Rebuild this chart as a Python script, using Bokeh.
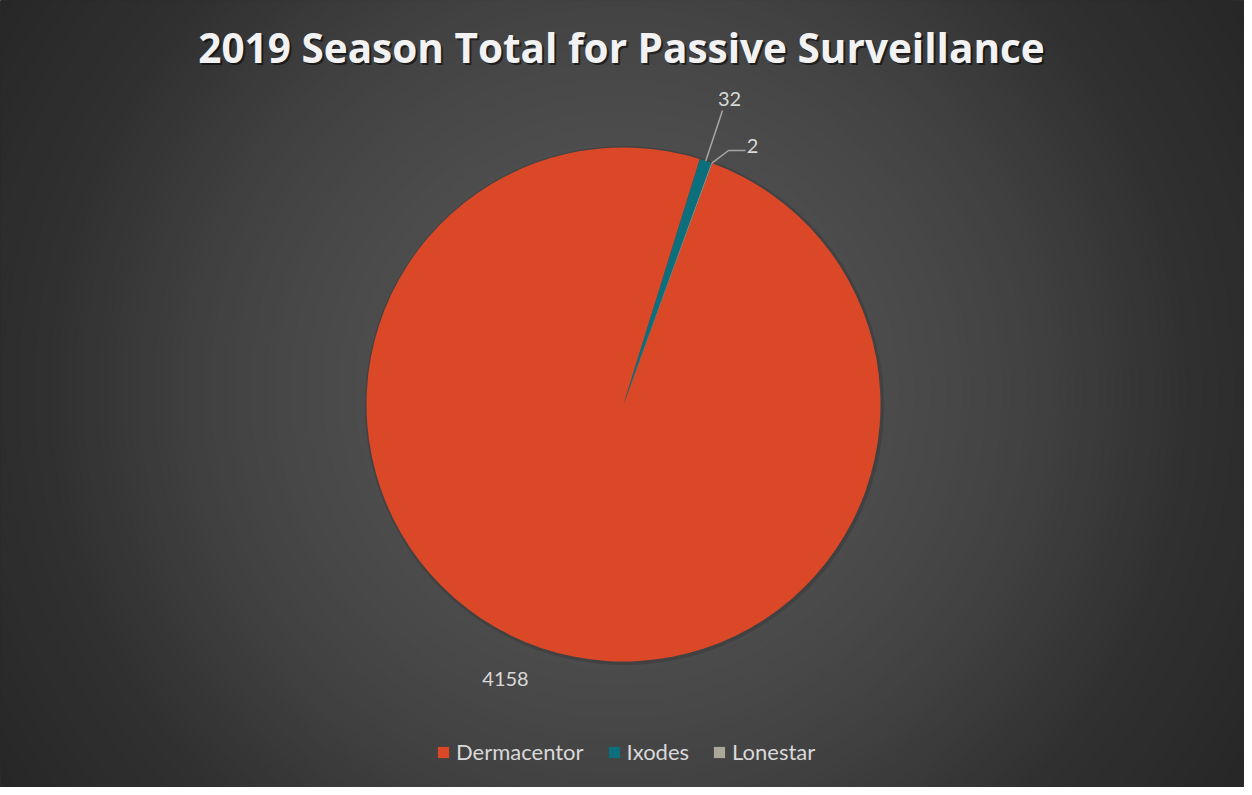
import numpy as np
from bokeh.plotting import figure
from bokeh.models import ColumnDataSource, Range1d, Label, Legend, LegendItem
from bokeh.embed import file_html
from bokeh.resources import INLINE

# ---- data ----
species = ["Dermacentor", "Ixodes", "Lonestar"]
counts = [4158, 32, 2]
colors = ["#da4828", "#0e6f7c", "#aca799"]
title_text = "2019 Season Total for Passive Surveillance"

W, H = 1244, 787
FONT = "Lato"

p = figure(width=W, height=H, output_backend="svg", toolbar_location=None,
           x_range=Range1d(0, W), y_range=Range1d(0, H),
           x_axis_type=None, y_axis_type=None, min_border=0,
           background_fill_color="#272727", border_fill_color="#272727",
           outline_line_color=None)
p.grid.visible = False

# ---- radial background gradient (decoration) ----
gcx, gcy = 618, 397
radii = np.arange(760, 0, -8)
ctrl_d = [0, 250, 334, 434, 574, 740]
ctrl_c = [82, 77, 72, 64, 49, 39]
shades = np.interp(radii, ctrl_d, ctrl_c)
bg_cols = ["#%02x%02x%02x" % (int(c), int(c), int(c)) for c in shades]
p.circle(x=[gcx] * len(radii), y=[gcy] * len(radii), radius=radii,
         fill_color=bg_cols, line_color=None)

# ---- pie ----
cx, cy, R = 623, 383, 257
first_angle = np.deg2rad(20.2)
tot = float(sum(counts))
frac = np.array(counts) / tot * 2 * np.pi
cum_end = np.cumsum(frac)
cum_start = cum_end - frac
theta_s = first_angle + cum_start
theta_e = first_angle + cum_end

# soft shadow
p.circle(x=[cx + 1], y=[cy - 1], radius=R + 2.5, fill_color="black", fill_alpha=0.12, line_color=None)

src = ColumnDataSource(dict(species=species, counts=counts, colors=colors,
                            start=np.pi / 2 - theta_s, end=np.pi / 2 - theta_e))
r = p.wedge(x=cx, y=cy, radius=R, start_angle="start", end_angle="end",
            direction="clock", fill_color="colors", line_color=None, source=src)

# ---- data labels with leader lines ----
label_pos = [(505, 109), (729, 689), (752, 642)]
elbows = [None, None, (740, 637)]
mid = (theta_s + theta_e) / 2
for i, (lx, ly) in enumerate(label_pos):
    p.add_layout(Label(x=lx, y=ly, text=str(counts[i]), text_align="center",
                       text_baseline="middle", text_color="#d9d9d9",
                       text_font=FONT, text_font_size="20px"))
    if i == 0:
        continue
    ex = cx + R * np.sin(mid[i])
    ey = cy + R * np.cos(mid[i])
    if elbows[i] is None:
        xs, ys = [ex, lx - 7], [ey, ly - 12]
    else:
        xs, ys = [ex, elbows[i][0] - 12, lx - 7], [ey, elbows[i][1], elbows[i][1]]
    p.line(xs, ys, line_color="#a6a6a6", line_width=1.5)

# ---- title with shadow ----
TFONT = "Open Sans"
p.add_layout(Label(x=621, y=740, text=title_text, text_align="center",
                   text_baseline="middle", text_color="black", text_alpha=0.55,
                   text_font=TFONT, text_font_size="40.5px", text_font_style="bold",
                   x_offset=2, y_offset=-2))
p.add_layout(Label(x=621, y=740, text=title_text, text_align="center",
                   text_baseline="middle", text_color="#f2f2f2",
                   text_font=TFONT, text_font_size="40.5px", text_font_style="bold"))

# ---- legend ----
items = [LegendItem(label=species[i], renderers=[r], index=i) for i in range(len(species))]
leg = Legend(items=items, orientation="horizontal", location=(436, 22),
             glyph_width=14, glyph_height=14, label_standoff=6, spacing=23,
             padding=0, margin=0, border_line_color=None, background_fill_alpha=0,
             label_text_color="#d9d9d9", label_text_font=FONT,
             label_text_font_size="22px", label_height=20)
p.add_layout(leg)

open("out.html", "w").write(file_html(p, INLINE))
